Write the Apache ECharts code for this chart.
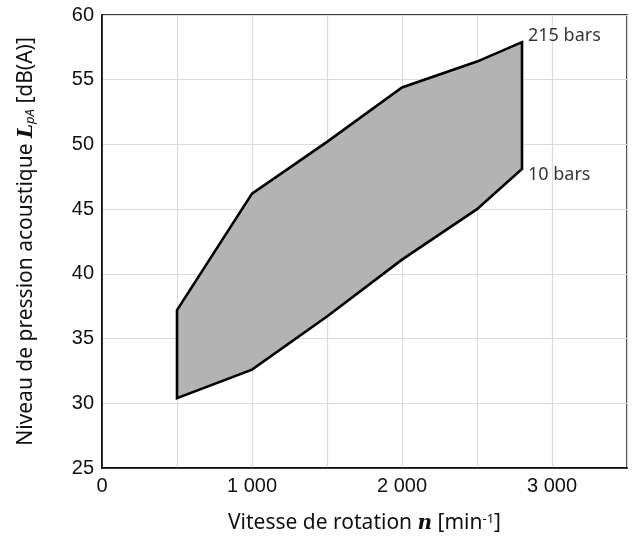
<!DOCTYPE html>
<html>
<head>
<meta charset="utf-8">
<script src="https://cdn.jsdelivr.net/npm/echarts@6/dist/echarts.min.js"></script>
<style>
  html, body { margin: 0; padding: 0; background: #fff; }
  #chart { width: 633px; height: 541px; }
</style>
</head>
<body>
<div id="chart"></div>
<script>
// Rotation speed [min^-1]
const speeds = [500, 1000, 1500, 2000, 2500, 2800];
// Sound pressure level at 215 bar (upper boundary) [dB(A)]
const upperLevel = [37.2, 46.2, 50.2, 54.4, 56.4, 57.9];
// Sound pressure level at 10 bar (lower boundary) [dB(A)]
const lowerLevel = [30.4, 32.6, 36.7, 41.1, 45.0, 48.1];
// Pressure labels at the end of each boundary
const pressureLabels = ['215 bars', '10 bars'];

// Polygon outline: upper boundary left→right, then lower boundary right→left
const outline = [];
speeds.forEach((s, i) => outline.push([s, upperLevel[i]]));
for (let i = speeds.length - 1; i >= 0; i--) outline.push([speeds[i], lowerLevel[i]]);

const last = speeds.length - 1;
const endPoints = [
  [speeds[last], upperLevel[last]],
  [speeds[last], lowerLevel[last]]
];

const tickFont = 'Liberation Sans';
const chart = echarts.init(document.getElementById('chart'));

chart.setOption({
  animation: false,
  grid: {
    left: 102, right: 6, top: 15, bottom: 73,
    show: true, borderColor: '#000', borderWidth: 1.5, backgroundColor: 'transparent'
  },
  xAxis: {
    type: 'value', min: 0, max: 3500, interval: 500,
    axisLine: { show: true, lineStyle: { color: '#000', width: 1.5 } },
    axisTick: { show: false },
    splitLine: { show: true, lineStyle: { color: '#dcdcdc', width: 1.2 } },
    axisLabel: {
      color: '#111', fontFamily: tickFont, fontSize: 20, margin: 8,
      formatter: v => (v % 1000 === 0 ? (v === 0 ? '0' : (v / 1000) + ' 000') : '')
    },
    name: 'Vitesse de rotation {n|n} [min{sup|-1}]',
    nameLocation: 'middle', nameGap: 45,
    nameTextStyle: {
      color: '#111', fontFamily: 'Noto Sans', fontSize: 21,
      rich: {
        n: { fontFamily: 'DejaVu Serif', fontStyle: 'italic', fontWeight: 'bold', fontSize: 20, color: '#111' },
        sup: { fontFamily: 'Noto Sans', fontSize: 13, color: '#111', verticalAlign: 'top', padding: [0, 0, 8, 0] }
      }
    }
  },
  yAxis: {
    type: 'value', min: 25, max: 60, interval: 5,
    axisLine: { show: true, lineStyle: { color: '#000', width: 1.5 } },
    axisTick: { show: false },
    splitLine: { show: true, lineStyle: { color: '#dcdcdc', width: 1.2 } },
    axisLabel: { color: '#111', fontFamily: tickFont, fontSize: 20, margin: 8 },
    name: 'Niveau de pression acoustique {L|L}{sub|pA} [dB(A)]',
    nameLocation: 'middle', nameGap: 65, nameRotate: 90,
    nameTextStyle: {
      color: '#111', fontFamily: 'Noto Sans', fontSize: 21,
      rich: {
        L: { fontFamily: 'DejaVu Serif', fontStyle: 'italic', fontWeight: 'bold', fontSize: 20, color: '#111' },
        sub: { fontFamily: 'Noto Sans', fontStyle: 'italic', fontSize: 13, color: '#111', verticalAlign: 'bottom', padding: [8, 0, 0, 0] }
      }
    }
  },
  series: [
    {
      type: 'custom',
      coordinateSystem: 'cartesian2d',
      data: outline,
      renderItem: (params, api) => {
        if (params.dataIndex !== 0) return null;
        const pts = outline.map(p => api.coord(p));
        return {
          type: 'polygon',
          shape: { points: pts },
          style: { fill: '#b3b3b4', stroke: '#000', lineWidth: 2.6, lineJoin: 'miter' }
        };
      },
      z: 3
    },
    {
      type: 'scatter',
      data: endPoints,
      symbolSize: 0,
      silent: true,
      z: 4,
      label: {
        show: true, position: 'right', distance: 6,
        fontFamily: 'Noto Sans', fontSize: 18, color: '#000',
        formatter: p => pressureLabels[p.dataIndex]
      },
      labelLayout: p => ({ dy: p.dataIndex === 0 ? -6 : 6 })
    }
  ]
});
</script>
</body>
</html>
